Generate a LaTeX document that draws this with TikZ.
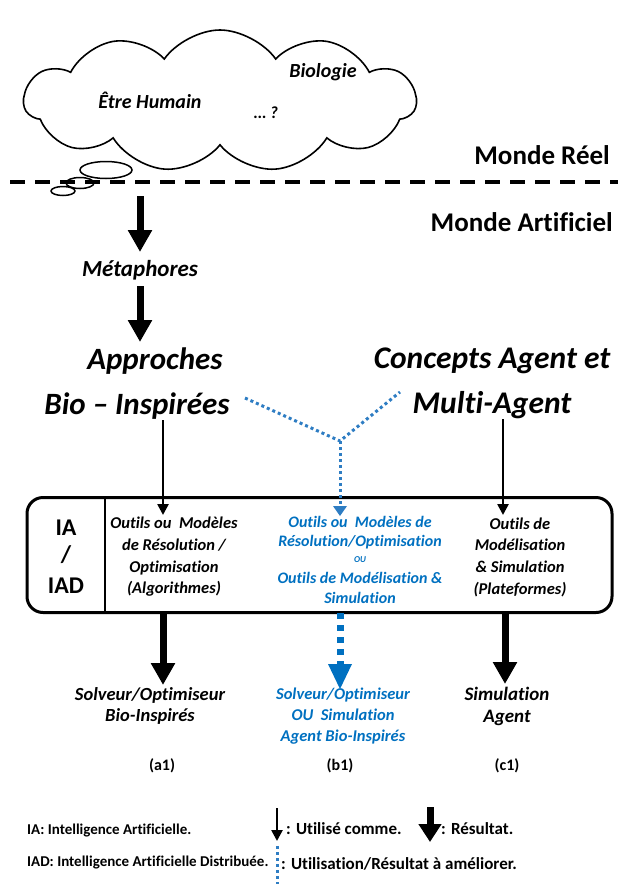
\documentclass[tikz,border=0pt]{standalone}
\usepackage{fontspec}
\setmainfont{Carlito}[Ligatures=NoCommon]
\usetikzlibrary{arrows.meta,shapes.symbols}
\definecolor{bluetxt}{RGB}{0,112,192}
\definecolor{bluedot}{RGB}{46,125,195}
\begin{document}
\begin{tikzpicture}[x=1pt,y=-1pt,
  txt/.style={inner sep=0pt, align=center},
  bi/.style={txt, font=\fontsize{#1}{#1}\selectfont\bfseries\itshape},
  bu/.style={txt, font=\fontsize{#1}{#1}\selectfont\bfseries},
  res/.style={line width=7pt, -{Triangle[width=23pt,length=22pt]}},
  use/.style={line width=2.5pt, -{Triangle[width=11pt,length=11pt]}},
  dotb/.style={bluedot, line width=3pt, dash pattern=on 3pt off 3pt},
]
\useasboundingbox (0,0) rectangle (618,884);

% the real world: cloud and thought bubbles
\node[cloud, draw, line width=1.6pt, cloud puffs=11, cloud puff arc=110,
      cloud ignores aspect, minimum width=392pt, minimum height=142pt,
      inner sep=0pt] (cloud) at (220,101) {};
\draw[line width=1.5pt] (106,170) ellipse [x radius=26, y radius=8.5];
\draw[line width=1.5pt] (80,183) ellipse [x radius=14, y radius=5.5];
\draw[line width=1.5pt] (63,191) ellipse [x radius=12, y radius=4.5];
\node[bi=20] (human) at (150,100) {Être Humain};
\node[bi=20] (bio) at (323,72) {Biologie};
\node[bi=17] (qm) at (266,113) {… ?};

% border between the two worlds
\coordinate (dl) at (10,182);
\coordinate (dr) at (618,182);
\draw[line width=4pt, dash pattern=on 15pt off 10pt] (dl) -- (dr);
\node[bu=27, anchor=east] (reel) at (610,155) {Monde Réel};
\node[bu=27, anchor=east] (artif) at (613,222) {Monde Artificiel};

% metaphors and the two families of approaches
\coordinate (m0) at (140,196);
\node[bi=23] (meta) at (140,270) {Métaphores};
\coordinate (m1) at (140,252);
\coordinate (m2) at (140,286);
\coordinate (m3) at (140,342);
\draw[res] (m0) -- (m1);
\draw[res] (m2) -- (m3);

\node[bi=31] (appr1) at (155,361) {Approches};
\node[bi=31] (appr2) at (137,406) {Bio – Inspirées};
\node[bi=31.5] (conc1) at (492,361) {Concepts Agent et};
\node[bi=31.5] (conc2) at (492,405) {Multi-Agent};

% tools box
\node[draw, line width=3pt, rounded corners=16pt, minimum width=585pt,
      minimum height=115pt, inner sep=0pt] (box) at (319.5,555) {};
\coordinate (dv) at (105,0);
\draw[line width=2.5pt] (box.north -| dv) -- (box.south -| dv);

\node[bu=24] (ia) at (66,528) {IA};
\node[bu=24] (sl) at (66,555) {/};
\node[bu=24] (iad) at (66,586) {IAD};

\node[txt, font=\fontsize{16.5}{21.7}\selectfont\bfseries\itshape] (left) at (174,557)
  {Outils ou\ \ Modèles\\de Résolution /\\Optimisation\\(Algorithmes)};
\node[txt, font=\fontsize{16.5}{21.7}\selectfont\bfseries\itshape] (right) at (520,557)
  {Outils de\\Modélisation\\\& Simulation\\(Plateformes)};

\begin{scope}[bluetxt]
\node[bi=16] (mid1) at (360,522) {Outils ou\ \ Modèles de};
\node[bi=16] (mid2) at (360,542) {Résolution/Optimisation};
\node[bi=9] (mid3) at (360,560) {OU};
\node[bi=16] (mid4) at (360,578) {Outils de Modélisation \&};
\node[bi=16] (mid5) at (360,598) {Simulation};
\end{scope}

% links from the approaches to the box
\coordinate (la) at (163,420);
\coordinate (lb) at (163,515);
\draw[use] (la) -- (lb);
\coordinate (ra) at (503,419);
\coordinate (rb) at (503,515);
\draw[use] (ra) -- (rb);

\coordinate (ya) at (245,398);
\coordinate (yb) at (400,392);
\coordinate (yj) at (340,441);
\coordinate (yt) at (340,507);
\draw[dotb] (ya) -- (yj) -- (yb);
\draw[dotb] (yj) -- (yt);
\fill[bluedot] (333,506) -- (347,506) -- (340,516) -- cycle;

% results
\coordinate (ea) at (163,613);
\coordinate (eb) at (163,685);
\draw[res] (ea) -- (eb);
\coordinate (fa) at (505,613);
\coordinate (fb) at (505,684);
\draw[res] (fa) -- (fb);
\coordinate (ga) at (340,613);
\coordinate (gb) at (340,664);
\coordinate (gc) at (340,689);
\draw[bluetxt, line width=7pt, dash pattern=on 6pt off 6pt] (ga) -- (gb);
\fill[bluetxt] (328,664) -- (352,664) -- (gc) -- cycle;

\node[txt, font=\fontsize{18.5}{21}\selectfont\bfseries\itshape] (ra1) at (150,706)
  {Solveur/Optimiseur\\Bio-Inspirés};
\node[txt, bluetxt, font=\fontsize{16.5}{21}\selectfont\bfseries\itshape] (rb1) at (343,716)
  {Solveur/Optimiseur\\OU\ \ Simulation\\Agent Bio-Inspirés};
\node[txt, font=\fontsize{19}{22}\selectfont\bfseries\itshape] (rc1) at (507,706)
  {Simulation\\Agent};

\node[bu=16] (a1) at (162,766) {(a1)};
\node[bu=16] (b1) at (340,766) {(b1)};
\node[bu=16] (c1) at (507,766) {(c1)};

% legend
\node[bu=15, anchor=west] (lg1) at (27,830) {IA: Intelligence Artificielle.};
\node[bu=15, anchor=west] (lg2) at (27,862) {IAD: Intelligence Artificielle Distribuée.};
\coordinate (ka) at (277,808);
\coordinate (kb) at (277,841);
\draw[use] (ka) -- (kb);
\node[bu=17, anchor=west] (lg3) at (286,829) {: Utilisé comme.};
\coordinate (qa) at (430,807);
\coordinate (qb) at (430,842);
\draw[line width=7pt, -{Triangle[width=22pt,length=18pt]}] (qa) -- (qb);
\node[bu=17, anchor=west] (lg4) at (441,829) {: Résultat.};
\coordinate (pa) at (277,846);
\coordinate (pb) at (277,884);
\draw[dotb] (pa) -- (pb);
\node[bu=17, anchor=west] (lg5) at (281,864) {: Utilisation/Résultat à améliorer.};
\end{tikzpicture}
\end{document}
